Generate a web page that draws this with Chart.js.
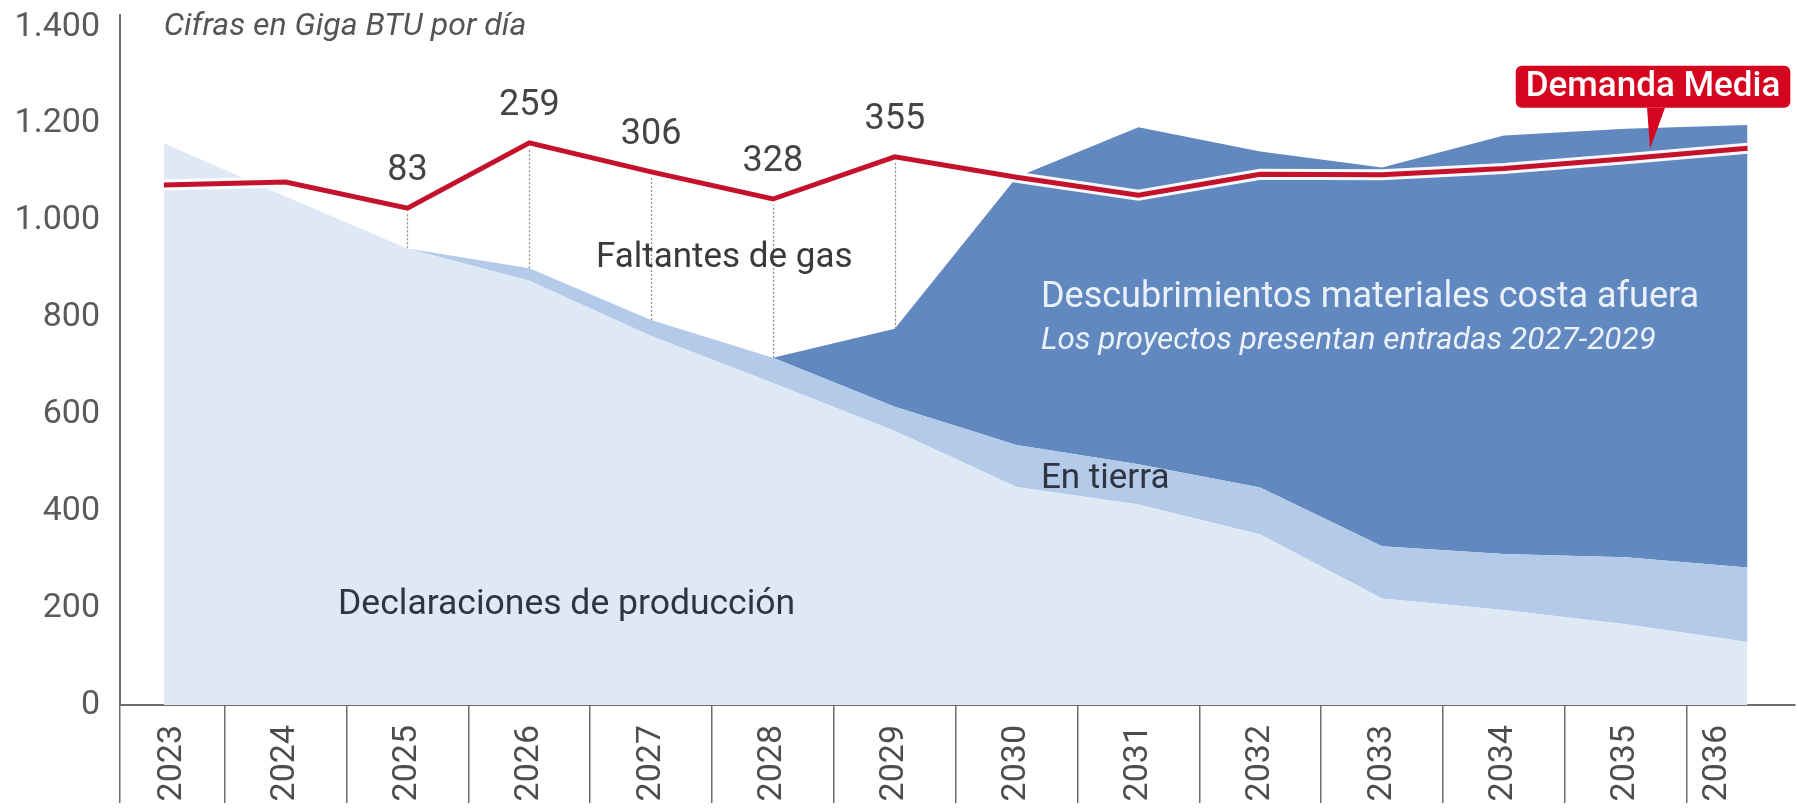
<!DOCTYPE html>
<html>
<head>
<meta charset="utf-8">
<script src="https://cdn.jsdelivr.net/npm/chart.js@4.4.0/dist/chart.umd.min.js"></script>
<style>
  html, body { margin: 0; padding: 0; background: #fff; }
  #wrap { width: 1798px; height: 808px; position: relative; }
</style>
</head>
<body>
<div id="wrap"><canvas id="graph--gas"></canvas></div>
<script>
// Cifras en Giga BTU por dia
const YEARS = [2023, 2024, 2025, 2026, 2027, 2028, 2029, 2030, 2031, 2032, 2033, 2034, 2035, 2036];
const DEMANDA = [1074, 1080, 1026, 1161, 1101, 1045, 1132, 1090, 1053, 1096, 1095, 1108, 1128, 1150];
const DECLARACIONES = [1160, 1050, 943, 876, 762, 665, 566, 450, 414, 352, 220, 196, 167, 130];
const EN_TIERRA = [0, 0, 0, 26, 33, 52, 50, 87, 83, 97, 108, 116, 138, 154];
const COSTA_AFUERA = [0, 0, 0, 0, 0, 0, 161, 553, 696, 694, 782, 864, 885, 914];
const FALTANTES = [null, null, 83, 259, 306, 328, 355, null, null, null, null, null, null, null];
const Y_TICKS = [0, 200, 400, 600, 800, 1000, 1200, 1400];

const X_MIN = 2022.64;
const X_MAX = 2036.39;
const DIVIDERS = [X_MIN].concat(YEARS.slice(0, -1).map(v => v + 0.5));
const LABEL_POS = YEARS.map((v, i) => i === 0 ? (X_MIN + v + 0.5) / 2 : (i === YEARS.length - 1 ? v - 0.25 : v));

const GRAY = "#5a5a5a";
const pts = arr => YEARS.map((v, i) => ({ x: v, y: arr[i] }));
const fmt = v => v >= 1000 ? Math.floor(v / 1000) + "." + String(v % 1000).padStart(3, "0") : String(v);

Chart.defaults.font.family = "Roboto";

const annot = {
  id: "annot",
  beforeDatasetsDraw(chart) {
    const { ctx, scales: { x, y } } = chart;
    ctx.save();
    ctx.strokeStyle = "#8c8c8c";
    ctx.lineWidth = 1.2;
    ctx.setLineDash([2, 2]);
    FALTANTES.forEach((g, i) => {
      if (g == null) return;
      const px = Math.round(x.getPixelForValue(YEARS[i])) + 0.5;
      ctx.beginPath();
      ctx.moveTo(px, y.getPixelForValue(DEMANDA[i] - g));
      ctx.lineTo(px, y.getPixelForValue(DEMANDA[i]));
      ctx.stroke();
    });
    ctx.restore();
  },
  afterDatasetsDraw(chart) {
    const { ctx, scales: { x, y } } = chart;
    const txt = (s, xv, yv, font, color, align) => {
      ctx.font = font;
      ctx.fillStyle = color;
      ctx.textAlign = align || "left";
      ctx.textBaseline = "middle";
      ctx.fillText(s, x.getPixelForValue(xv), y.getPixelForValue(yv));
    };
    ctx.save();
    // numeros de faltante
    FALTANTES.forEach((g, i) => {
      if (g == null) return;
      ctx.font = "36px Roboto";
      ctx.fillStyle = "#444";
      ctx.textAlign = "center";
      ctx.textBaseline = "middle";
      ctx.fillText(String(g), x.getPixelForValue(YEARS[i]), y.getPixelForValue(DEMANDA[i]) - 37);
    });
    txt("Cifras en Giga BTU por día", 2023.0, 1400, "italic 32px Roboto", "#555");
    txt("Faltantes de gas", 2027.6, 923, "35px Roboto", "#3a3a3a", "center");
    txt("Descubrimientos materiales costa afuera", 2030.2, 840, "36px Roboto", "#eaf1fb");
    txt("Los proyectos presentan entradas 2027-2029", 2030.2, 752, "italic 31.5px Roboto", "#eaf1fb");
    txt("En tierra", 2030.2, 467, "35px Roboto", "#2f3440");
    txt("Declaraciones de producción", 2024.43, 206, "35.5px Roboto", "#2f3440");

    // Demanda Media
    const tx = x.getPixelForValue(2035.2);
    const ty = y.getPixelForValue(DEMANDA[12] + 0.2 * (DEMANDA[13] - DEMANDA[12])) - 8;
    ctx.font = "500 35px Roboto";
    const w = ctx.measureText("Demanda Media").width + 22;
    const cx = tx + 3, bb = ty - 40, bt = bb - 44;
    ctx.fillStyle = "#d5051f";
    ctx.strokeStyle = "#fff";
    ctx.lineWidth = 2;
    ctx.beginPath();
    ctx.roundRect(cx - w / 2, bt, w, bb - bt, 7);
    ctx.fill();
    ctx.stroke();
    ctx.beginPath();
    ctx.moveTo(tx - 3, bb - 1);
    ctx.lineTo(tx + 15, bb - 1);
    ctx.lineTo(tx, ty);
    ctx.closePath();
    ctx.fill();
    ctx.fillStyle = "#fff";
    ctx.textAlign = "center";
    ctx.textBaseline = "middle";
    ctx.fillText("Demanda Media", cx, (bt + bb) / 2 + 1);
    ctx.restore();
  }
};

const GAS = document.getElementById("graph--gas");

let gasChart = new Chart(GAS, {
  type: "line",
  data: {
    datasets: [{
      label: "Demanda Media",
      data: pts(DEMANDA),
      stack: "dem",
      borderColor: "#c5122c",
      borderWidth: 5,
      pointRadius: 0,
      fill: false,
      tension: 0
    }, {
      label: "halo",
      data: pts(DEMANDA),
      stack: "halo",
      borderColor: "rgba(255,255,255,0.95)",
      borderWidth: 11,
      pointRadius: 0,
      fill: false,
      tension: 0
    }, {
      label: "Declaraciones de producción",
      data: pts(DECLARACIONES),
      stack: "oferta",
      backgroundColor: "#dfe9f5",
      borderWidth: 0,
      borderColor: "rgba(0,0,0,0)",
      pointRadius: 0,
      fill: "origin",
      tension: 0
    }, {
      label: "En tierra",
      data: pts(EN_TIERRA),
      stack: "oferta",
      backgroundColor: "#b3cae9",
      borderWidth: 0,
      borderColor: "rgba(0,0,0,0)",
      pointRadius: 0,
      fill: "-1",
      tension: 0
    }, {
      label: "Descubrimientos materiales costa afuera",
      data: pts(COSTA_AFUERA),
      stack: "oferta",
      backgroundColor: "#6288c0",
      borderWidth: 0,
      borderColor: "rgba(0,0,0,0)",
      pointRadius: 0,
      fill: "-1",
      tension: 0
    }]
  },
  options: {
    responsive: true,
    maintainAspectRatio: false,
    animation: false,
    layout: { padding: { left: 0, right: 3, top: 15, bottom: 0 } },
    plugins: {
      legend: { display: false },
      tooltip: { enabled: false }
    },
    scales: {
      x: {
        type: "linear",
        min: X_MIN,
        max: X_MAX,
        afterBuildTicks: s => {
          s.ticks = DIVIDERS.concat(LABEL_POS).sort((a, b) => a - b).map(v => ({ value: v }));
        },
        afterFit: s => { s.height = 103; s.paddingLeft = 0; s.paddingRight = 0; },
        grid: {
          drawOnChartArea: false,
          drawTicks: true,
          tickLength: 98,
          lineWidth: 1.5,
          color: c => (c.tick && DIVIDERS.includes(c.tick.value)) ? "#6d6d6d" : "rgba(0,0,0,0)"
        },
        border: { display: true, color: "#6d6d6d", width: 2 },
        ticks: {
          autoSkip: false,
          minRotation: 90,
          maxRotation: 90,
          padding: -78,
          color: "#4d4d4d",
          font: { size: 34 },
          callback: v => {
            const i = LABEL_POS.indexOf(v);
            return i < 0 ? "" : String(YEARS[i]);
          }
        }
      },
      y: {
        stacked: true,
        min: 0,
        max: 1425,
        afterBuildTicks: s => { s.ticks = Y_TICKS.map(v => ({ value: v })); },
        afterFit: s => { s.width = 120; s.paddingTop = 0; s.paddingBottom = 0; },
        grid: { display: false, drawTicks: false },
        border: { display: true, color: "#6d6d6d", width: 2 },
        ticks: {
          padding: 20,
          color: GRAY,
          font: { size: 34 },
          callback: v => fmt(v)
        }
      }
    }
  },
  plugins: [annot]
});
</script>
</body>
</html>
